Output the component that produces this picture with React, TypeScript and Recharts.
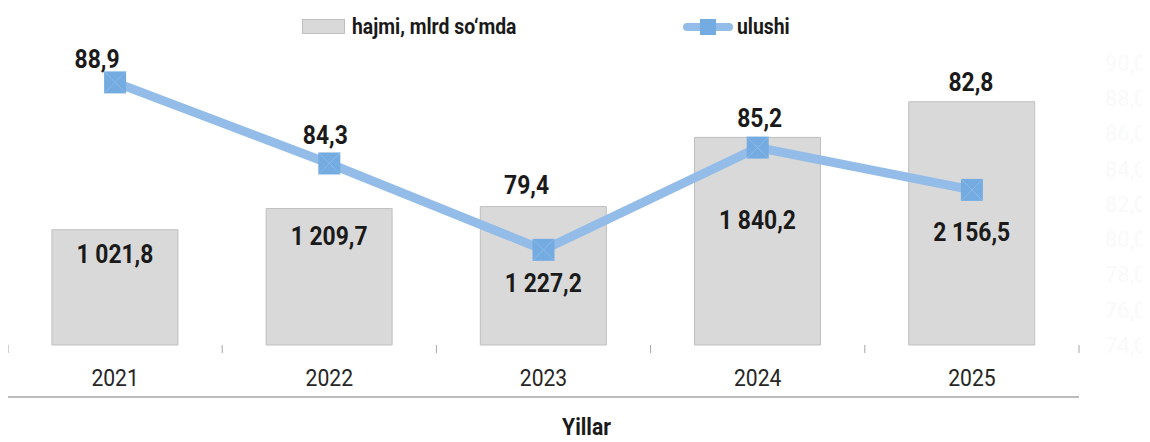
import { ComposedChart, Bar, Line, XAxis, YAxis, LabelList, Label } from 'recharts'

// values
const years = ['2021', '2022', '2023', '2024', '2025']
const hajmi = [1021.8, 1209.7, 1227.2, 1840.2, 2156.5]
const ulushi = [88.9, 84.3, 79.4, 85.2, 82.8]
const rightTicks = [74, 76, 78, 80, 82, 84, 86, 88, 90]

const data = years.map((year, i) => ({ year, hajmi: hajmi[i], ulushi: ulushi[i] }))

// label nudges (the source chart had hand-placed labels)
const BAR_LABEL_DY = [24, 27, 76, 83, 130]
const LINE_LABEL_DX = [-18, -4, -17, 2, -1]
const LINE_LABEL_DY = [-23, -28, -65, -30, -108]

const W = 1142
const H = 434
const MARGIN = { top: 55, right: 0, bottom: 0, left: 0 }
const RIGHT_AXIS_W = 71
const PLOT_W = W - RIGHT_AXIS_W
const FONT = 'Roboto, "Noto Sans", sans-serif'
// the original used a condensed face; squeeze Roboto a bit
const SQUEEZE = 0.88

const BAR_FILL = '#d9d9d9'
const BAR_STROKE = '#bfbfbf'
const LINE_COLOR = '#93bde8'
const MARKER_COLOR = '#74abe0'

function fmt(v: number) {
  const [int, dec] = v.toFixed(1).split('.')
  return int.replace(/\B(?=(\d{3})+(?!\d))/g, ' ') + ',' + dec
}

function NarrowText({ x, y, size, weight = 700, fill = '#1a1a1a', children }: any) {
  return (
    <text
      transform={`translate(${x},${y}) scale(${SQUEEZE},1)`}
      textAnchor="middle"
      dominantBaseline="central"
      fontFamily={FONT}
      fontWeight={weight}
      fontSize={size}
      fill={fill}
    >
      {children}
    </text>
  )
}

function BarValueLabel(props: any) {
  const { x, y, width, index, value } = props
  return (
    <NarrowText x={x + width / 2} y={y + BAR_LABEL_DY[index]} size={26}>
      {fmt(value)}
    </NarrowText>
  )
}

function LineValueLabel(props: any) {
  const { x, y, index, value } = props
  return (
    <NarrowText x={x + LINE_LABEL_DX[index]} y={y + LINE_LABEL_DY[index]} size={26}>
      {fmt(value)}
    </NarrowText>
  )
}

function SquareDot(props: any) {
  const { cx, cy } = props
  if (cx == null || cy == null) return null
  const s = 11
  return (
    <g>
      <rect x={cx - s} y={cy - s} width={s * 2} height={s * 2} fill={MARKER_COLOR} />
      <path
        d={`M${cx - s},${cy - s}L${cx + s},${cy + s}M${cx + s},${cy - s}L${cx - s},${cy + s}`}
        stroke="#9cc6ee"
        strokeWidth={1}
        opacity={0.6}
      />
    </g>
  )
}

function YearTick(props: any) {
  const { x, y, index, payload } = props
  const half = PLOT_W / years.length / 2
  return (
    <g>
      <line x1={x - half} x2={x - half} y1={y} y2={y + 8} stroke="#a6a6a6" />
      {index === years.length - 1 && (
        <line x1={x + half} x2={x + half} y1={y} y2={y + 8} stroke="#a6a6a6" />
      )}
      <NarrowText x={x} y={y + 33} size={24} weight={400} fill="#262626">
        {payload.value}
      </NarrowText>
    </g>
  )
}

function AxisTitle(props: any) {
  const { viewBox } = props
  return (
    <NarrowText x={viewBox.x + viewBox.width / 2 + 43} y={viewBox.y + 30} size={24}>
      Yillar
    </NarrowText>
  )
}

function ChartLegend() {
  const text: React.CSSProperties = {
    position: 'absolute',
    top: 19,
    transform: `translateY(-50%) scaleX(${SQUEEZE})`,
    transformOrigin: 'left center',
    fontFamily: FONT,
    fontWeight: 700,
    fontSize: 22,
    color: '#1a1a1a',
    whiteSpace: 'nowrap',
    lineHeight: 1,
  }
  return (
    <div style={{ position: 'absolute', top: 0, left: 0, width: W, height: 40 }}>
      <div
        style={{
          position: 'absolute',
          left: 294,
          top: 11,
          width: 43,
          height: 15,
          background: BAR_FILL,
          border: `1px solid ${BAR_STROKE}`,
          boxSizing: 'border-box',
        }}
      />
      <div style={{ ...text, left: 344 }}>hajmi, mlrd so‘mda</div>
      <div
        style={{
          position: 'absolute',
          left: 675,
          top: 15,
          width: 50,
          height: 8,
          borderRadius: 4,
          background: LINE_COLOR,
        }}
      />
      <div
        style={{
          position: 'absolute',
          left: 692,
          top: 11,
          width: 16,
          height: 16,
          background: MARKER_COLOR,
        }}
      />
      <div style={{ ...text, left: 729 }}>ulushi</div>
    </div>
  )
}

export default function App() {
  return (
    <div style={{ position: 'relative', width: W, height: H }}>
      <ComposedChart width={W} height={H} data={data} margin={MARGIN} barCategoryGap="20.5%">
        <XAxis
          dataKey="year"
          axisLine={false}
          tickLine={false}
          tickSize={0}
          tickMargin={0}
          height={52}
          tick={<YearTick />}
          interval={0}
        />
        <XAxis
          xAxisId="base"
          dataKey="year"
          tick={false}
          tickLine={false}
          axisLine={{ stroke: '#a6a6a6', strokeWidth: 1.5 }}
          height={45}
        >
          <Label content={<AxisTitle />} />
        </XAxis>
        <YAxis yAxisId="left" hide domain={[0, 2500]} />
        <YAxis
          yAxisId="right"
          orientation="right"
          domain={[74, 90]}
          ticks={rightTicks}
          tickFormatter={fmt}
          axisLine={false}
          tickLine={false}
          tickSize={0}
          tickMargin={26}
          width={RIGHT_AXIS_W}
          tick={{ fill: '#f9f9f9', fontSize: 22, fontFamily: FONT, textAnchor: 'start' }}
        />
        <Bar
          yAxisId="left"
          dataKey="hajmi"
          fill={BAR_FILL}
          stroke={BAR_STROKE}
          strokeWidth={1}
          isAnimationActive={false}
        >
          <LabelList dataKey="hajmi" content={<BarValueLabel />} />
        </Bar>
        <Line
          yAxisId="right"
          dataKey="ulushi"
          type="linear"
          stroke={LINE_COLOR}
          strokeWidth={9}
          dot={<SquareDot />}
          activeDot={false}
          isAnimationActive={false}
        >
          <LabelList dataKey="ulushi" content={<LineValueLabel />} />
        </Line>
      </ComposedChart>
      <ChartLegend />
    </div>
  )
}
